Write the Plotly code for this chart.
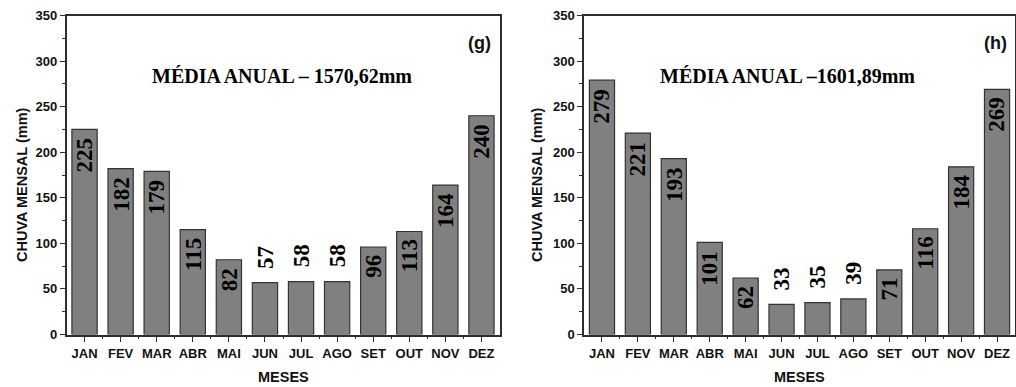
import plotly.graph_objects as go

# Monthly rainfall (mm) for two stations
months = ["JAN", "FEV", "MAR", "ABR", "MAI", "JUN", "JUL", "AGO", "SET", "OUT", "NOV", "DEZ"]
rain_g = [225, 182, 179, 115, 82, 57, 58, 58, 96, 113, 164, 240]
rain_h = [279, 221, 193, 101, 62, 33, 35, 39, 71, 116, 184, 269]
panel_tags = ["(g)", "(h)"]
annual_texts = ["MÉDIA ANUAL – 1570,62mm", "MÉDIA ANUAL –1601,89mm"]
y_ticks = [0, 50, 100, 150, 200, 250, 300, 350]

W, H = 1016, 387
SANS = "Liberation Sans, Arial, sans-serif"
SERIF = "Liberation Serif, Times New Roman, serif"
AX = "#2e2e2e"
INSIDE_MIN = 60  # values at or above this get their label inside the bar

pos = list(range(len(months)))
minor_pos = [p + 0.5 for p in pos[:-1]]

fig = go.Figure()

panels = [
    dict(vals=rain_g, x0=66.5, x1=499.5, ytitle_x=22, title_x=0.497),
    dict(vals=rain_h, x0=584.0, x1=1015.0, ytitle_x=537, title_x=0.471),
]
y_top_px, y_bot_px = 15.5, 334.5
ydom = [(H - y_bot_px) / H, (H - y_top_px) / H]

annotations = []
for k, p in enumerate(panels):
    n = k + 1
    xa = "x" if n == 1 else f"x{n}"
    ya = "y" if n == 1 else f"y{n}"
    fig.add_trace(go.Bar(
        x=pos, y=p["vals"], xaxis=xa, yaxis=ya, width=0.7,
        marker=dict(color="#808080", line=dict(color="#333333", width=1.2)),
        showlegend=False, hoverinfo="x+y",
    ))
    dom = [p["x0"] / W, p["x1"] / W]
    xkey = "xaxis" if n == 1 else f"xaxis{n}"
    ykey = "yaxis" if n == 1 else f"yaxis{n}"
    fig.layout[xkey] = dict(
        domain=dom, anchor=ya, range=[-0.5, len(months) - 0.5], automargin=False,
        tickmode="array", tickvals=pos, ticktext=months,
        ticks="outside", ticklen=6, tickwidth=1.2, tickcolor=AX,
        minor=dict(tickmode="array", tickvals=minor_pos, ticks="outside",
                   ticklen=3, tickwidth=1.2, tickcolor=AX),
        showline=True, linecolor=AX, linewidth=1.5, mirror=True,
        showgrid=False, zeroline=False, fixedrange=True,
        tickfont=dict(family=SANS, size=13, color="#111", weight="bold"),
    )
    # top frame ticks pointing inward
    top_n = n + 2
    fig.layout[f"xaxis{top_n}"] = dict(
        domain=dom, anchor=ya, overlaying=xa, side="top", automargin=False,
        range=[-0.5, len(months) - 0.5],
        tickmode="array", tickvals=pos, showticklabels=False,
        ticks="inside", ticklen=6, tickwidth=1.2, tickcolor=AX,
        minor=dict(tickmode="array", tickvals=minor_pos, ticks="inside",
                   ticklen=3, tickwidth=1.2, tickcolor=AX),
        showline=False, showgrid=False, zeroline=False, fixedrange=True,
    )
    fig.layout[ykey] = dict(
        domain=ydom, anchor=xa, range=[0, 350], automargin=False,
        tickmode="array", tickvals=y_ticks,
        ticks="outside", ticklen=5, tickwidth=1.2, tickcolor=AX,
        minor=dict(dtick=25, ticks="outside", ticklen=3, tickwidth=1.2, tickcolor=AX),
        showline=True, linecolor=AX, linewidth=1.5, mirror=True,
        showgrid=False, zeroline=False, fixedrange=True,
        tickfont=dict(family=SANS, size=13, color="#111", weight="bold"),
    )

    # value labels, rotated, inside the top of tall bars or above short bars
    for i, v in zip(pos, p["vals"]):
        inside = v >= INSIDE_MIN
        annotations.append(dict(
            x=i, y=v, xref=xa, yref=ya, text=str(v), showarrow=False,
            textangle=-90, xanchor="center",
            yanchor="top" if inside else "bottom",
            yshift=-6 if inside else 12,
            font=dict(family=SERIF, size=23, color="#000", weight="bold"),
        ))

    # annual mean text and panel tag
    annotations.append(dict(
        x=p["title_x"], y=0.81, xref=f"{xa} domain", yref=f"{ya} domain",
        text=annual_texts[k], showarrow=False, xanchor="center", yanchor="middle",
        font=dict(family=SERIF, size=20, color="#000", weight="bold"),
    ))
    annotations.append(dict(
        x=0.985, y=0.914, xref=f"{xa} domain", yref=f"{ya} domain",
        text=panel_tags[k], showarrow=False, xanchor="right", yanchor="middle",
        font=dict(family=SANS, size=18, color="#111", weight="bold"),
    ))
    # axis titles
    annotations.append(dict(
        x=p["ytitle_x"] / W, y=(H - 185) / H, xref="paper", yref="paper",
        text="CHUVA MENSAL (mm)", showarrow=False, textangle=-90,
        xanchor="center", yanchor="middle",
        font=dict(family=SANS, size=14.5, color="#111", weight="bold"),
    ))
    annotations.append(dict(
        x=(p["x0"] + p["x1"]) / 2 / W, y=(H - 377) / H, xref="paper", yref="paper",
        text="MESES", showarrow=False, xanchor="center", yanchor="middle",
        font=dict(family=SANS, size=14.5, color="#111", weight="bold"),
    ))

fig.update_layout(
    width=W, height=H, margin=dict(l=0, r=0, t=0, b=0, autoexpand=False),
    paper_bgcolor="white", plot_bgcolor="white",
    annotations=annotations, bargap=0.3,
)

fig.write_html("out.html", config={"displayModeBar": False})
